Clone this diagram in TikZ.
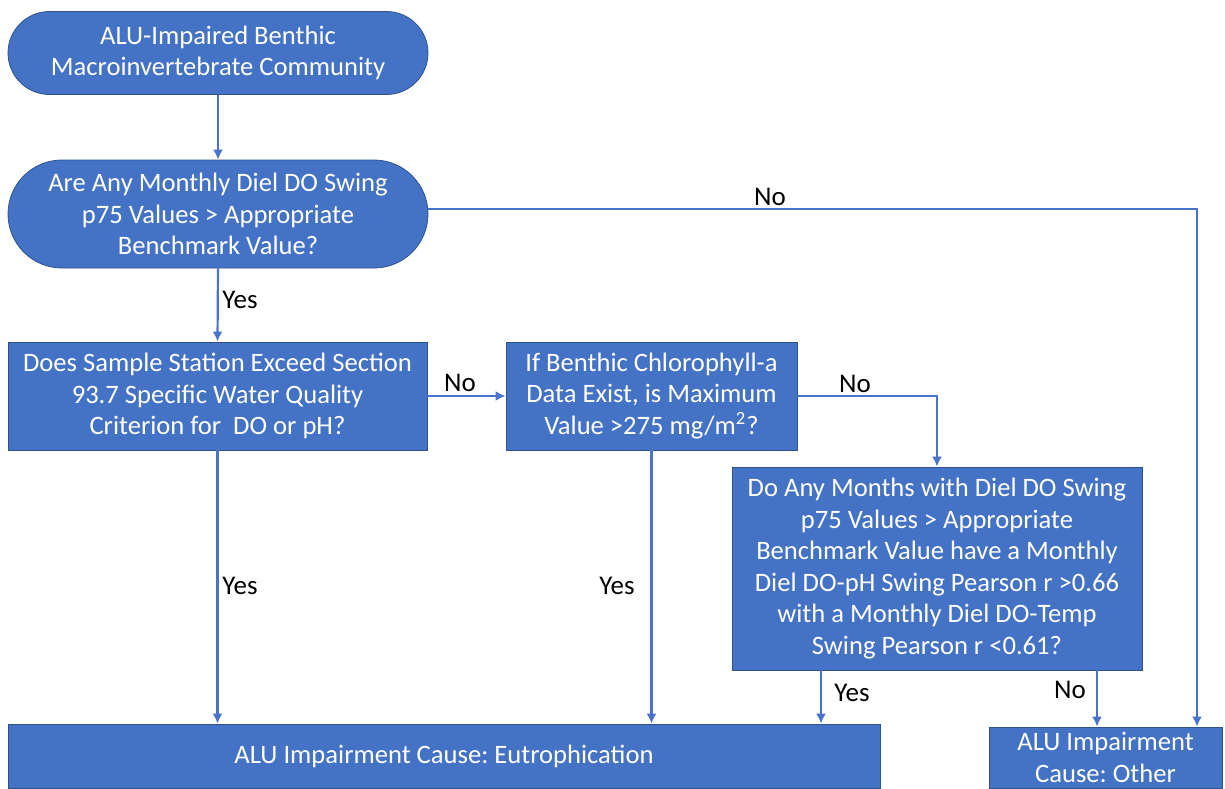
\documentclass[tikz,border=0pt]{standalone}
\usepackage{fontspec}
\setmainfont{Carlito}
\usepackage{tikz}
\usetikzlibrary{arrows.meta, shapes.misc}
\definecolor{boxblue}{HTML}{4472C4}
\definecolor{edgeblue}{HTML}{2F528F}
\definecolor{lineblue}{HTML}{4A74CC}
\frenchspacing

\begin{document}
\begin{tikzpicture}[x=0.5pt, y=-0.5pt,
    box/.style={draw=edgeblue, line width=0.4pt, fill=boxblue, text=white, align=center, inner sep=0pt, font=\fontsize{13.3}{15.8}\selectfont},
    term/.style={box, rounded rectangle},
    flow/.style={line width=1.1pt, color=lineblue, -{Latex[length=5pt, width=5pt]}},
    lbl/.style={font=\fontsize{13.5}{15}\selectfont}]
      \useasboundingbox (0,0) rectangle (1225,788);

      \node[term, minimum width=210pt, minimum height=41.5pt] (start) at (218,53) {ALU-Impaired Benthic\\Macroinvertebrate Community};
      \node[term, minimum width=210pt, minimum height=54pt] (swing) at (218,214) {Are Any Monthly Diel DO Swing\\p75 Values > Appropriate\\Benchmark Value?};
      \node[box, minimum width=209.5pt, minimum height=54pt] (section) at (217.5,396) {Does Sample Station Exceed Section\\93.7 Specific Water Quality\\Criterion for \ DO or pH?};
      \node[box, minimum width=145.5pt, minimum height=54pt] (chla) at (651.5,396) {If Benthic Chlorophyll-a\\Data Exist, is Maximum\\Value >275 mg/m\textsuperscript{2}?};
      \node[box, minimum width=205pt, minimum height=101.5pt] (pearson) at (937,568.5) {Do Any Months with Diel DO Swing\\p75 Values > Appropriate\\Benchmark Value have a Monthly\\Diel DO-pH Swing Pearson r >0.66\\with a Monthly Diel DO-Temp\\Swing Pearson r <0.61?};
      \node[box, minimum width=436pt, minimum height=32pt] (eutro) at (444,756) {ALU Impairment Cause: Eutrophication};
      \node[box, minimum width=116.5pt, minimum height=30.5pt] (other) at (1105.5,757.5) {ALU Impairment\\Cause: Other};

      \draw[flow] (start.south) -- (swing.north);
      \draw[flow] ([yshift=2.5pt]swing.east) -| ([xshift=45.75pt]other.north);
      \draw[flow] (swing.south) -- (section.north);
      \draw[flow] (section.east) -- (chla.west);
      \draw[flow] (chla.east) -| (pearson.north);
      \draw[flow] (section.south) -- (section.south |- eutro.north);
      \draw[flow] (chla.south) -- (chla.south |- eutro.north);
      \draw[flow] ([xshift=-58pt]pearson.south) -- ([xshift=-58pt]pearson.south |- eutro.north);
      \draw[flow] ([xshift=80pt]pearson.south) -- ([xshift=80pt]pearson.south |- other.north);

      \node[lbl] (l1) at (770,197) {No};
      \node[lbl] (l2) at (240,300) {Yes};
      \node[lbl] (l3) at (460,383) {No};
      \node[lbl] (l4) at (855,384) {No};
      \node[lbl] (l5) at (240,586) {Yes};
      \node[lbl] (l6) at (617,586) {Yes};
      \node[lbl] (l7) at (852,693) {Yes};
      \node[lbl] (l8) at (1070,690) {No};
    \end{tikzpicture}
\end{document}
